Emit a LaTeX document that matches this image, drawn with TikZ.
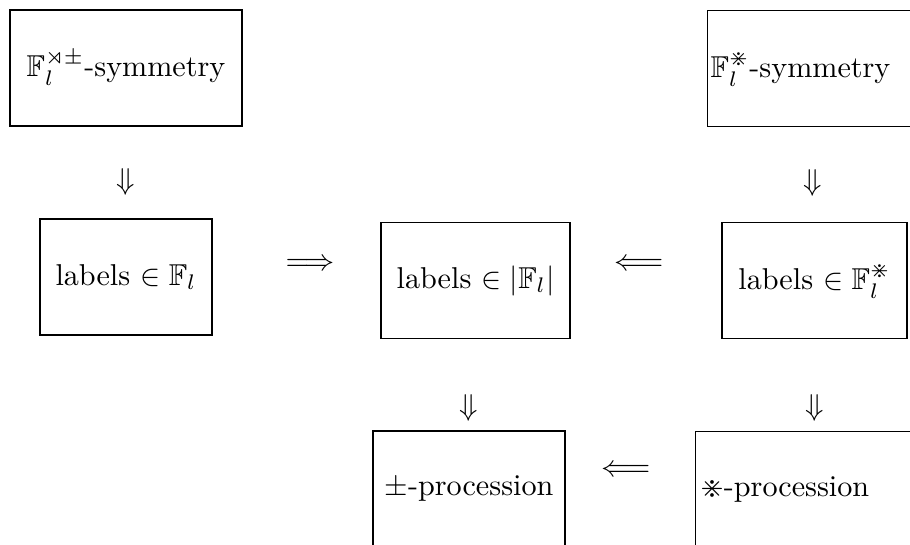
\documentclass[tikz,border=0pt]{standalone}
\usepackage{amsmath,amssymb}
\usepackage{tikz}
\usetikzlibrary{positioning}

\begin{document}
\begin{tikzpicture}[
  box/.style={draw,minimum height=1.351cm,inner sep=0pt},
  cutbox/.style={draw,anchor=north west,minimum height=1.351cm,text width=2.6cm,align=left,inner ysep=0pt},
  arr/.style={inner sep=0pt}
]
\useasboundingbox (0,0) rectangle (10.602,-6.338);
\clip (0,0) rectangle (10.602,-6.338);

\node[box,minimum width=2.703cm] (symA) at (1.468,-0.792) {$\mathbb{F}_l^{\rtimes\pm}$-symmetry};
\node[cutbox,inner xsep=1pt] (symB) at (8.237,-0.117) {$\mathbb{F}_l^{\divideontimes}$-symmetry};

\node[box,minimum width=2.004cm] (labF) at (1.468,-3.227) {labels $\in\mathbb{F}_l$};
\node[box,minimum width=2.202cm] (labAbs) at (5.540,-3.268) {labels $\in|\mathbb{F}_l|$};
\node[box,minimum width=2.155cm] (labStar) at (9.489,-3.268) {labels $\in\mathbb{F}_l^{\divideontimes}$};

\node[box,minimum width=2.237cm] (procPM) at (5.464,-5.697) {$\pm$-procession};
\node[cutbox,inner xsep=1.6pt] (procStar) at (8.097,-5.021) {$\divideontimes$-procession};

\node[arr] (d1) at (1.468,-2.120) {$\Downarrow$};
\node[arr] (d2) at (9.471,-2.132) {$\Downarrow$};
\node[arr] (r1) at (3.612,-3.087) {$\Longrightarrow$};
\node[arr] (l1) at (7.444,-3.087) {$\Longleftarrow$};
\node[arr] (d3) at (5.464,-4.753) {$\Downarrow$};
\node[arr] (d4) at (9.495,-4.753) {$\Downarrow$};
\node[arr] (l2) at (7.293,-5.487) {$\Longleftarrow$};

\end{tikzpicture}
\end{document}
